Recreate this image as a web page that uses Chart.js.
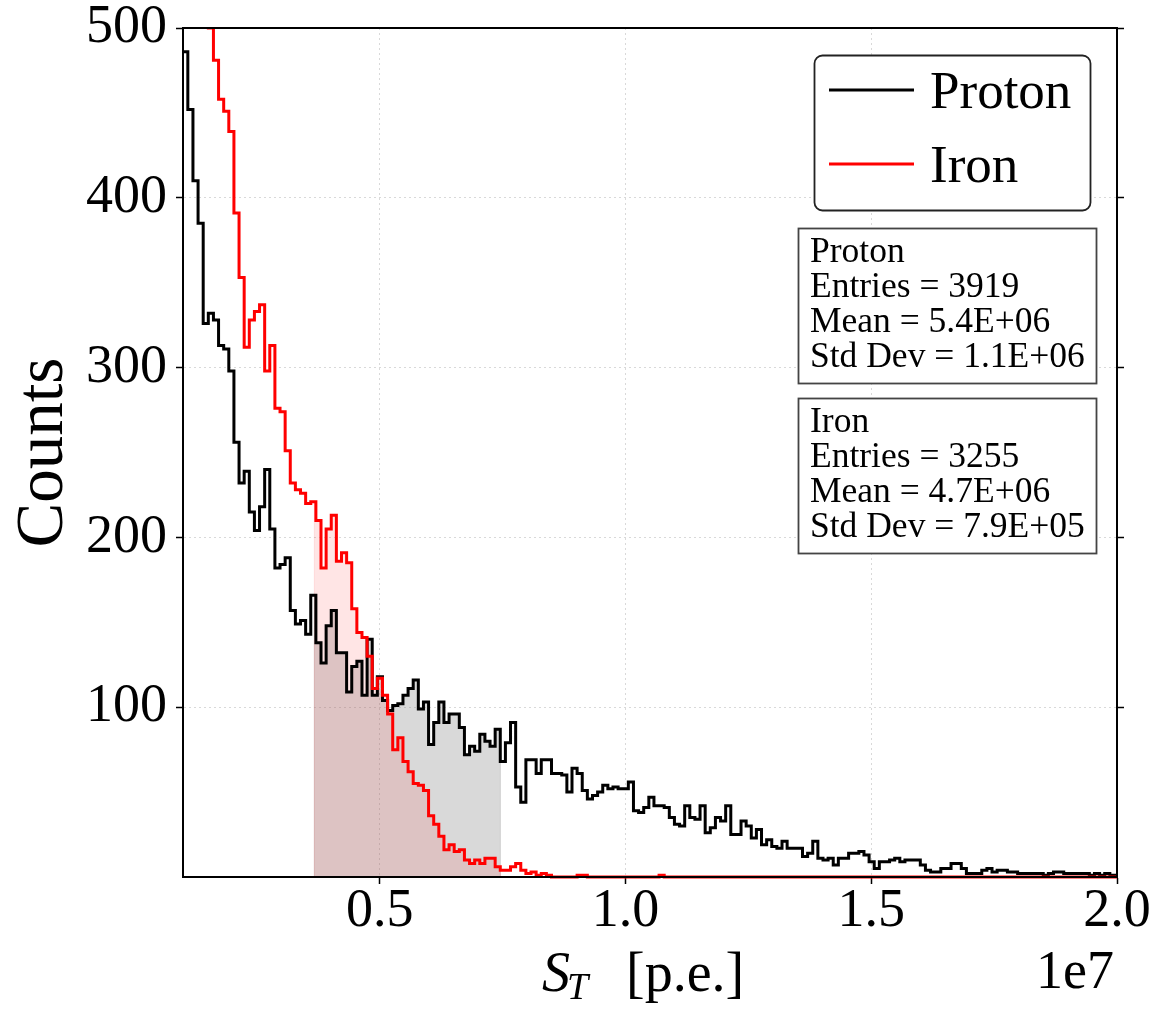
<!DOCTYPE html>
<html><head><meta charset="utf-8">
<script src="https://cdn.jsdelivr.net/npm/chart.js@4.4.1/dist/chart.umd.min.js"></script>
<style>html,body{margin:0;padding:0;background:#fff;}canvas{display:block;}</style>
</head><body>
<canvas id="c" width="1155" height="1012"></canvas>
<script>
// ---------------- data ----------------
const seriesNames = ['Proton', 'Iron'];
const binStart = 994000;      // left edge of first bin (p.e.)
const binWidth = 104200;      // bin width (p.e.)
const protonCounts = [
  486,452,410,385,326,332,328,313,311,298,
  256,232,239,215,204,218,240,205,182,184,
  188,157,149,151,143,166,138,126,148,157,
  132,132,109,124,127,107,140,107,118,104,
  98,101,102,107,111,116,99,103,78,91,
  103,91,96,96,88,72,77,74,84,80,
  77,87,68,79,91,53,44,69,69,61,
  69,69,61,61,60,50,64,61,51,46,
  48,50,54,52,53,52,52,56,39,38,
  41,47,42,42,41,35,31,30,42,35,
  34,42,26,29,35,33,42,25,25,33,
  30,23,28,19,22,18,17,21,17,17,
  17,12,14,21,11,10,11,7,11,11,
  14,14,15,13,9,5,9,9,10,11,
  9,10,10,10,7,4,3,3,5,5,
  8,8,5,2,2,2,4,5,3,4,
  4,3,3,2,2,2,2,2,1,2,
  3,3,2,2,2,2,2,1,2,1,
  2,1,1
];
const ironCounts = [
  700,650,610,570,530,500,481,458,451,439,
  391,353,312,328,333,337,298,313,276,274,
  251,232,228,226,220,221,210,182,205,213,
  186,191,185,158,144,141,130,111,117,107,
  96,75,82,68,62,55,54,51,36,31,
  24,16,19,15,16,10,8,10,8,11,
  11,6,4,4,6,8,4,2,3,1,
  2,1,0,0,0,0,0,1,1,0,
  0,0,0,0,0,0,0,0,0,0,
  0,0,0,1,0,0,0,0,0,0,
  0,0,0,0,0,0,0,0,0,0,
  0,0,0,0,0,0,0,0,0,0,
  0,0,0,0,0,0,0,0,0,0,
  0,0,0,0,0,0,0,0,0,0,
  0,0,0,0,0,0,0,0,0,0,
  0,0,0,0,0,0,0,0,0,0,
  0,0,0,0,0,0,0,0,0,0,
  0,0,0,0,0,0,0,0,0,0,
  0,0,0
];
const bandRange = [3672000, 7457000];
const xTickValues = [5e6, 1e7, 1.5e7, 2e7];
const yTickValues = [100, 200, 300, 400, 500];
const xRange = [1e6, 2e7];
const yRange = [0, 500];
const statsProton = ['Proton', 'Entries = 3919', 'Mean = 5.4E+06', 'Std Dev = 1.1E+06'];
const statsIron = ['Iron', 'Entries = 3255', 'Mean = 4.7E+06', 'Std Dev = 7.9E+05'];

// ---------------- helpers ----------------
const SERIF = '"Liberation Serif", "DejaVu Serif", serif';
const edge = i => binStart + i * binWidth;
function stepPoints(counts) {
  const pts = counts.map((v, i) => ({x: edge(i), y: v}));
  pts.push({x: edge(counts.length), y: counts[counts.length - 1]});
  return pts;
}
function bandPoints(counts, lo, hi) {
  const iLo = Math.floor((lo - binStart) / binWidth);
  const iHi = Math.floor((hi - binStart) / binWidth);
  const pts = [{x: lo, y: 0}, {x: lo, y: counts[iLo]}];
  for (let i = iLo + 1; i <= iHi; i++) pts.push({x: edge(i), y: counts[i]});
  pts.push({x: hi, y: counts[iHi]});
  pts.push({x: hi, y: 0});
  return pts;
}
const lineClip = {left: 0, right: 0, top: 0, bottom: 4};
const setTicks = vals => s => { s.ticks = vals.map(v => ({value: v})); };

// ---------------- annotations plugin ----------------
const annotations = {
  id: 'annotations',
  afterDatasetsDraw(chart) {
    const a = chart.chartArea, ctx = chart.ctx;
    ctx.save();
    ctx.lineWidth = 2;
    ctx.strokeStyle = '#000';
    ctx.strokeRect(a.left, a.top, a.right - a.left, a.bottom - a.top);
    ctx.restore();
  },
  afterDraw(chart) {
    const ctx = chart.ctx;
    ctx.save();
    ctx.fillStyle = '#000';
    ctx.textAlign = 'left';
    ctx.textBaseline = 'alphabetic';
    // x-axis title  S_T [p.e.]
    ctx.font = 'italic 56px ' + SERIF;
    ctx.fillText('S', 542, 991);
    ctx.font = 'italic 38px ' + SERIF;
    ctx.fillText('T', 567, 999);
    ctx.font = '56px ' + SERIF;
    ctx.fillText('[p.e.]', 626, 991);
    // offset text
    ctx.textAlign = 'right';
    ctx.font = '54px ' + SERIF;
    ctx.fillText('1e7', 1114, 988);

    // legend
    ctx.beginPath();
    ctx.roundRect(814.5, 55.5, 276, 155, 8);
    ctx.fillStyle = '#fff';
    ctx.fill();
    ctx.lineWidth = 1.8;
    ctx.strokeStyle = '#222';
    ctx.stroke();
    const legendColors = ['#000000', '#ff0000'];
    const legendY = [90, 164];
    seriesNames.forEach((name, k) => {
      ctx.beginPath();
      ctx.moveTo(829, legendY[k]);
      ctx.lineTo(914, legendY[k]);
      ctx.lineWidth = 3;
      ctx.strokeStyle = legendColors[k];
      ctx.stroke();
      ctx.fillStyle = '#000';
      ctx.textAlign = 'left';
      ctx.font = '53px ' + SERIF;
      ctx.fillText(name, 930, legendY[k] + 18);
    });

    // stats boxes
    const boxes = [[statsProton, 228.5], [statsIron, 398.5]];
    boxes.forEach(([lines, top]) => {
      ctx.fillStyle = '#fff';
      ctx.fillRect(798.5, top, 298, 155);
      ctx.lineWidth = 1.8;
      ctx.strokeStyle = '#444';
      ctx.strokeRect(798.5, top, 298, 155);
      ctx.fillStyle = '#000';
      ctx.font = '35.5px ' + SERIF;
      lines.forEach((t, j) => ctx.fillText(t, 810, top + 33.5 + j * 35));
    });
    ctx.restore();
  }
};

// ---------------- chart ----------------
const tickFont = {family: SERIF, size: 54, lineHeight: 1};
const gridCommon = {color: 'rgba(0,0,0,0.15)', lineWidth: 1, drawTicks: true, tickLength: 7, tickColor: '#000', tickWidth: 1.5};
const borderCommon = {display: true, color: '#000', width: 2, dash: [2, 3]};

new Chart(document.getElementById('c'), {
  type: 'line',
  data: {
    datasets: [
      {label: 'Iron', data: stepPoints(ironCounts), borderColor: '#ff0000', borderWidth: 3,
       stepped: 'before', pointRadius: 0, fill: false, order: 0, clip: lineClip, borderJoinStyle: 'miter'},
      {label: 'Proton', data: stepPoints(protonCounts), borderColor: '#000000', borderWidth: 3,
       stepped: 'before', pointRadius: 0, fill: false, order: 1, clip: lineClip, borderJoinStyle: 'miter'},
      {label: 'Iron band', data: bandPoints(ironCounts, bandRange[0], bandRange[1]),
       borderColor: 'rgba(255,0,0,0.12)', borderWidth: 1, backgroundColor: 'rgba(255,0,0,0.1)',
       fill: 'origin', stepped: 'before', pointRadius: 0, order: 2},
      {label: 'Proton band', data: bandPoints(protonCounts, bandRange[0], bandRange[1]),
       borderColor: 'rgba(128,128,128,0.3)', borderWidth: 1, backgroundColor: 'rgba(128,128,128,0.3)',
       fill: 'origin', stepped: 'before', pointRadius: 0, order: 3}
    ]
  },
  options: {
    responsive: false,
    devicePixelRatio: 1,
    animation: false,
    events: [],
    parsing: false,
    layout: {padding: 0, autoPadding: false},
    plugins: {legend: {display: false}, tooltip: {enabled: false}},
    scales: {
      x: {
        type: 'linear', position: 'bottom', min: xRange[0], max: xRange[1],
        afterBuildTicks: setTicks(xTickValues),
        ticks: {callback: v => (v / 1e7).toFixed(1), font: tickFont, color: '#000', padding: 1,
                maxRotation: 0, minRotation: 0, autoSkip: false},
        grid: gridCommon, border: borderCommon,
        afterFit: s => { s.height = 135; s.paddingLeft = 0; s.paddingRight = 0; }
      },
      xTop: {
        type: 'linear', position: 'top', min: xRange[0], max: xRange[1],
        ticks: {display: false}, grid: {display: false},
        border: {display: true, color: '#000', width: 2},
        afterFit: s => { s.height = 28; s.paddingLeft = 0; s.paddingRight = 0; }
      },
      y: {
        type: 'linear', position: 'left', min: yRange[0], max: yRange[1],
        afterBuildTicks: setTicks(yTickValues),
        ticks: {font: tickFont, color: '#000', padding: 9, autoSkip: false},
        grid: gridCommon, border: borderCommon,
        title: {display: true, text: 'Counts', color: '#000',
                font: {family: SERIF, size: 67, lineHeight: 1}, padding: {top: 11, bottom: 0}},
        afterFit: s => { s.width = 183; s.paddingTop = 0; s.paddingBottom = 0; }
      },
      yRight: {
        type: 'linear', position: 'right', min: yRange[0], max: yRange[1],
        afterBuildTicks: setTicks(yTickValues),
        ticks: {display: false},
        grid: {drawOnChartArea: false, drawTicks: true, tickLength: 7, tickColor: '#000', tickWidth: 1.5, color: '#000'},
        border: {display: true, color: '#000', width: 2},
        afterFit: s => { s.width = 38; s.paddingTop = 0; s.paddingBottom = 0; }
      }
    }
  },
  plugins: [annotations]
});
</script>
</body></html>
